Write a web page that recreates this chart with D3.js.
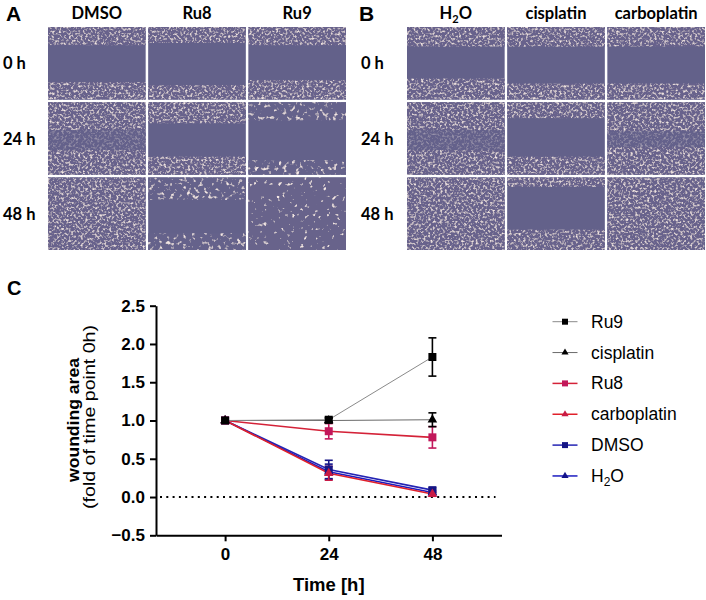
<!DOCTYPE html>
<html>
<head>
<meta charset="utf-8">
<script src="https://d3js.org/d3.v7.min.js"></script>
<style>
	body { margin: 0; background: #fff; }
	svg { display: block; }
	.tick text { font-weight: 700; }
</style>
</head>
<body>
<div id="figure"></div>
<script>
'use strict';

// chart C data: wounding area, fold of time point 0 h (mean, sem)
var times = [0, 24, 48];
var ru9 = [1.00, 1.01, 1.83];
var ru9Err = [0, 0.03, 0.25];
var cisplatin = [1.00, 1.00, 1.01];
var cisplatinErr = [0, 0.03, 0.09];
var ru8 = [1.00, 0.86, 0.78];
var ru8Err = [0, 0.10, 0.14];
var carboplatin = [1.00, 0.31, 0.04];
var carboplatinErr = [0, 0.09, 0.03];
var dmso = [1.00, 0.36, 0.09];
var dmsoErr = [0, 0.12, 0.03];
var h2o = [1.00, 0.33, 0.06];
var h2oErr = [0, 0.10, 0.03];
var yTicks = [-0.5, 0, 0.5, 1.0, 1.5, 2.0, 2.5];

// panels A and B: column headers, row labels, wound gap (fraction of tile height)
var rowLabels = ['0 h', '24 h', '48 h'];
var headersA = ['DMSO', 'Ru8', 'Ru9'];
var headersB = ['H2O', 'cisplatin', 'carboplatin'];
var gapsA = [
	[[0.25, 0.76], [0.22, 0.80], [0.25, 0.73]],
	[[0.38, 0.66], [0.29, 0.75], [0.25, 0.80]],
	[null, [0.31, 0.77], null]
];
var gapsB = [
	[[0.27, 0.71], [0.27, 0.78], [0.27, 0.78]],
	[[0.38, 0.66], [0.22, 0.75], [0.40, 0.62]],
	[null, [0.13, 0.72], null]
];
var cellsA = [
	['dense', 'dense', 'dense'],
	['dense', 'dense', 'coarse'],
	['dense', 'coarse', 'sparse']
];
var cellsB = [
	['dense', 'dense', 'dense'],
	['dense', 'dense', 'dense'],
	['dense', 'dense', 'dense']
];
var faintA = [[0, 0, 0], [1, 0, 0], [0, 0, 0]];
var faintB = [[0, 0, 0], [1, 0, 1], [0, 0, 0]];

InitFigure();

function InitFigure() {
	var WIDTH = 706,
		HEIGHT = 600;

	var svg = d3.select('#figure').append('svg')
		.attr('width', WIDTH)
		.attr('height', HEIGHT);

	makeFilters(svg.append('defs'));

	drawPhotos(svg, 'A', 6, 48, 346, headersA, gapsA, cellsA, faintA, 3);
	drawPhotos(svg, 'B', 359, 407, 705, headersB, gapsB, cellsB, faintB, 361);
	drawChart(svg);
}

// cell texture made from svg noise
function makeFilters(defs) {
	var kinds = [
		{ id: 'dense', freq: 0.42, bg: '#67628c', a: 3.0, b: -1.5 },
		{ id: 'coarse', freq: 0.24, bg: '#65628b', a: 5, b: -2.9 },
		{ id: 'sparse', freq: 0.22, bg: '#67648b', a: 7, b: -4.6 }
	];
	kinds.forEach(function(k) {
		var f = defs.append('filter')
			.attr('id', k.id)
			.attr('x', 0).attr('y', 0)
			.attr('width', 1).attr('height', 1);
		f.append('feTurbulence')
			.attr('type', 'fractalNoise')
			.attr('baseFrequency', k.freq)
			.attr('numOctaves', 2)
			.attr('seed', 7)
			.attr('result', 'noise');
		f.append('feColorMatrix')
			.attr('in', 'noise')
			.attr('type', 'matrix')
			.attr('values', '0 0 0 0 0.90  0 0 0 0 0.80  0 0 0 0 0.78  ' + k.a + ' 0 0 0 ' + k.b)
			.attr('result', 'spots');
		f.append('feFlood')
			.attr('flood-color', k.bg)
			.attr('result', 'bg');
		var m = f.append('feMerge').attr('result', 'mix');
		m.append('feMergeNode').attr('in', 'bg');
		m.append('feMergeNode').attr('in', 'spots');
		f.append('feComposite')
			.attr('in', 'mix')
			.attr('in2', 'SourceGraphic')
			.attr('operator', 'in');
	});
}

function drawPhotos(svg, letter, letterX, x0, x1, headers, gaps, cells, faint, labelX) {
	var x = d3.scaleBand().domain(headers).range([x0, x1]).paddingInner(0.025);
	var y = d3.scaleBand().domain(rowLabels).range([27, 250]).paddingInner(0.035);
	var gapColor = '#63618a';

	svg.append('text')
		.text(letter)
		.attr('x', letterX)
		.attr('y', 21)
		.style('font', 'bold 21px "Liberation Sans", Arial, sans-serif');

	var head = svg.selectAll('.head-' + letter)
		.data(headers)
		.enter().append('text')
			.attr('class', 'head-' + letter)
			.attr('x', function(d) { return x(d) + x.bandwidth() / 2; })
			.attr('y', 19)
			.style('text-anchor', 'middle')
			.style('font', 'bold 16.5px Lato, sans-serif');
	head.each(function(d) {
		var t = d3.select(this);
		if (d === 'H2O') {
			t.append('tspan').text('H');
			t.append('tspan').text('2').attr('dy', 4).style('font-size', '11px');
			t.append('tspan').text('O').attr('dy', -4);
		} else {
			t.text(d);
		}
	});

	svg.selectAll('.row-' + letter)
		.data(rowLabels)
		.enter().append('text')
			.attr('class', 'row-' + letter)
			.text(function(d) { return d; })
			.attr('x', labelX)
			.attr('y', function(d) { return y(d) + y.bandwidth() / 2 + 6; })
			.style('font', 'bold 16.5px Lato, sans-serif');

	rowLabels.forEach(function(r, i) {
		headers.forEach(function(h, j) {
			var tx = x(h), ty = y(r), w = x.bandwidth(), hgt = y.bandwidth();
			var g = gaps[i][j];
			var tile = svg.append('g');
			tile.append('rect')
				.attr('x', tx).attr('y', ty)
				.attr('width', w).attr('height', hgt)
				.attr('fill', gapColor);
			if (g === null || faint[i][j]) {
				tile.append('rect')
					.attr('x', tx).attr('y', ty)
					.attr('width', w).attr('height', hgt)
					.attr('fill', '#000')
					.attr('filter', 'url(#' + cells[i][j] + ')');
				if (g !== null) {
					tile.append('rect')
						.attr('x', tx).attr('y', ty + g[0] * hgt)
						.attr('width', w).attr('height', (g[1] - g[0]) * hgt)
						.attr('fill', gapColor)
						.attr('opacity', 0.6);
				}
			} else {
				tile.append('rect')
					.attr('x', tx).attr('y', ty)
					.attr('width', w).attr('height', g[0] * hgt)
					.attr('fill', '#000')
					.attr('filter', 'url(#' + cells[i][j] + ')');
				tile.append('rect')
					.attr('x', tx).attr('y', ty + g[1] * hgt)
					.attr('width', w).attr('height', (1 - g[1]) * hgt)
					.attr('fill', '#000')
					.attr('filter', 'url(#' + cells[i][j] + ')');
			}
		});
	});
}

function drawChart(svg) {
	var x = d3.scaleLinear().domain([-16, 64]).range([156, 501.5]);
	var y = d3.scaleLinear().domain([-0.5, 2.5]).range([535.3, 305.7]);

	var series = [
		{ name: 'Ru9', values: ru9, err: ru9Err, line: '#8a8a8a', color: '#000', shape: d3.symbolSquare },
		{ name: 'cisplatin', values: cisplatin, err: cisplatinErr, line: '#6a6a6a', color: '#000', shape: d3.symbolTriangle },
		{ name: 'Ru8', values: ru8, err: ru8Err, line: '#d42238', color: '#c2185b', shape: d3.symbolSquare },
		{ name: 'carboplatin', values: carboplatin, err: carboplatinErr, line: '#e0202a', color: '#c81a45', shape: d3.symbolTriangle },
		{ name: 'DMSO', values: dmso, err: dmsoErr, line: '#2424b4', color: '#151585', shape: d3.symbolSquare },
		{ name: 'H2O', values: h2o, err: h2oErr, line: '#1c1cc0', color: '#12128a', shape: d3.symbolTriangle }
	];
	var drawOrder = series.slice().reverse();

	svg.append('text')
		.text('C')
		.attr('x', 7)
		.attr('y', 295)
		.style('font', 'bold 20px "Liberation Sans", Arial, sans-serif');

	// zero line
	svg.append('line')
		.attr('x1', x(-16) + 4).attr('x2', x(64) - 6)
		.attr('y1', y(0)).attr('y2', y(0))
		.attr('stroke', '#000')
		.attr('stroke-width', 2)
		.attr('stroke-dasharray', '2,4.3');

	var line = d3.line()
		.x(function(d, i) { return x(times[i]); })
		.y(function(d) { return y(d); });

	svg.selectAll('.series-line')
		.data(drawOrder)
		.enter().append('path')
			.attr('class', 'series-line')
			.attr('d', function(s) { return line(s.values); })
			.attr('fill', 'none')
			.attr('stroke', function(s) { return s.line; })
			.attr('stroke-width', function(s) { return s.color === '#000' ? 1 : 1.6; });

	// error bars
	drawOrder.forEach(function(s) {
		var g = svg.append('g')
			.attr('stroke', s.color)
			.attr('stroke-width', 1.6);
		s.values.forEach(function(v, i) {
			if (!s.err[i]) return;
			var cx = x(times[i]);
			g.append('line')
				.attr('x1', cx).attr('x2', cx)
				.attr('y1', y(v - s.err[i])).attr('y2', y(v + s.err[i]));
			[v - s.err[i], v + s.err[i]].forEach(function(e) {
				g.append('line')
					.attr('x1', cx - 4).attr('x2', cx + 4)
					.attr('y1', y(e)).attr('y2', y(e));
			});
		});
	});

	// markers
	drawOrder.forEach(function(s) {
		var size = s.shape === d3.symbolSquare ? 64 : 40;
		svg.selectAll(null)
			.data(s.values)
			.enter().append('path')
				.attr('d', d3.symbol().type(s.shape).size(size))
				.attr('transform', function(d, i) { return 'translate(' + x(times[i]) + ',' + y(d) + ')'; })
				.attr('fill', s.color);
	});

	// axes
	var yAxis = svg.append('g')
		.attr('transform', 'translate(156,0)')
		.call(d3.axisLeft(y).tickValues(yTicks).tickFormat(d3.format('.1f')).tickSize(6).tickSizeOuter(0).tickPadding(5));
	var xAxis = svg.append('g')
		.attr('transform', 'translate(0,535.3)')
		.call(d3.axisBottom(x).tickValues(times).tickSize(6).tickSizeOuter(0).tickPadding(7));
	[yAxis, xAxis].forEach(function(a) {
		a.attr('font-family', '"Liberation Sans", Arial, sans-serif')
			.attr('font-size', 17);
		a.select('.domain').attr('stroke-width', 2);
		a.selectAll('.tick line').attr('stroke-width', 2);
		a.selectAll('.tick text').attr('fill', '#000');
	});

	// axis titles
	svg.append('text')
		.text('Time [h]')
		.attr('x', x(24))
		.attr('y', 591)
		.style('text-anchor', 'middle')
		.style('font', 'bold 18.5px "Liberation Sans", Arial, sans-serif');
	svg.append('text')
		.text('wounding area')
		.attr('transform', 'translate(79,420) rotate(-90)')
		.attr('textLength', 124)
		.attr('lengthAdjust', 'spacingAndGlyphs')
		.style('text-anchor', 'middle')
		.style('font', 'bold 16.5px "Liberation Sans", Arial, sans-serif');
	svg.append('text')
		.text('(fold of time point 0h)')
		.attr('transform', 'translate(95,417) rotate(-90)')
		.attr('textLength', 184)
		.attr('lengthAdjust', 'spacingAndGlyphs')
		.style('text-anchor', 'middle')
		.style('font', '16.5px "Liberation Sans", Arial, sans-serif');

	// legend
	var legend = svg.selectAll('.legend')
		.data(series)
		.enter().append('g')
			.attr('class', 'legend')
			.attr('transform', function(d, i) { return 'translate(565,' + (321.7 + i * 30.85) + ')'; });
	legend.append('line')
		.attr('x1', -12.5).attr('x2', 12.5)
		.attr('stroke', function(s) { return s.line; })
		.attr('stroke-width', function(s) { return s.color === '#000' ? 1 : 1.5; });
	legend.append('path')
		.attr('d', function(s) { return d3.symbol().type(s.shape).size(s.shape === d3.symbolSquare ? 36 : 22)(); })
		.attr('fill', function(s) { return s.color; });
	var lt = legend.append('text')
		.attr('x', 26)
		.attr('y', 6)
		.style('font', '17.5px "Liberation Sans", Arial, sans-serif');
	lt.each(function(s) {
		var t = d3.select(this);
		if (s.name === 'H2O') {
			t.append('tspan').text('H');
			t.append('tspan').text('2').attr('dy', 4).style('font-size', '12px');
			t.append('tspan').text('O').attr('dy', -4);
		} else {
			t.text(s.name);
		}
	});
}
</script>
</body>
</html>
